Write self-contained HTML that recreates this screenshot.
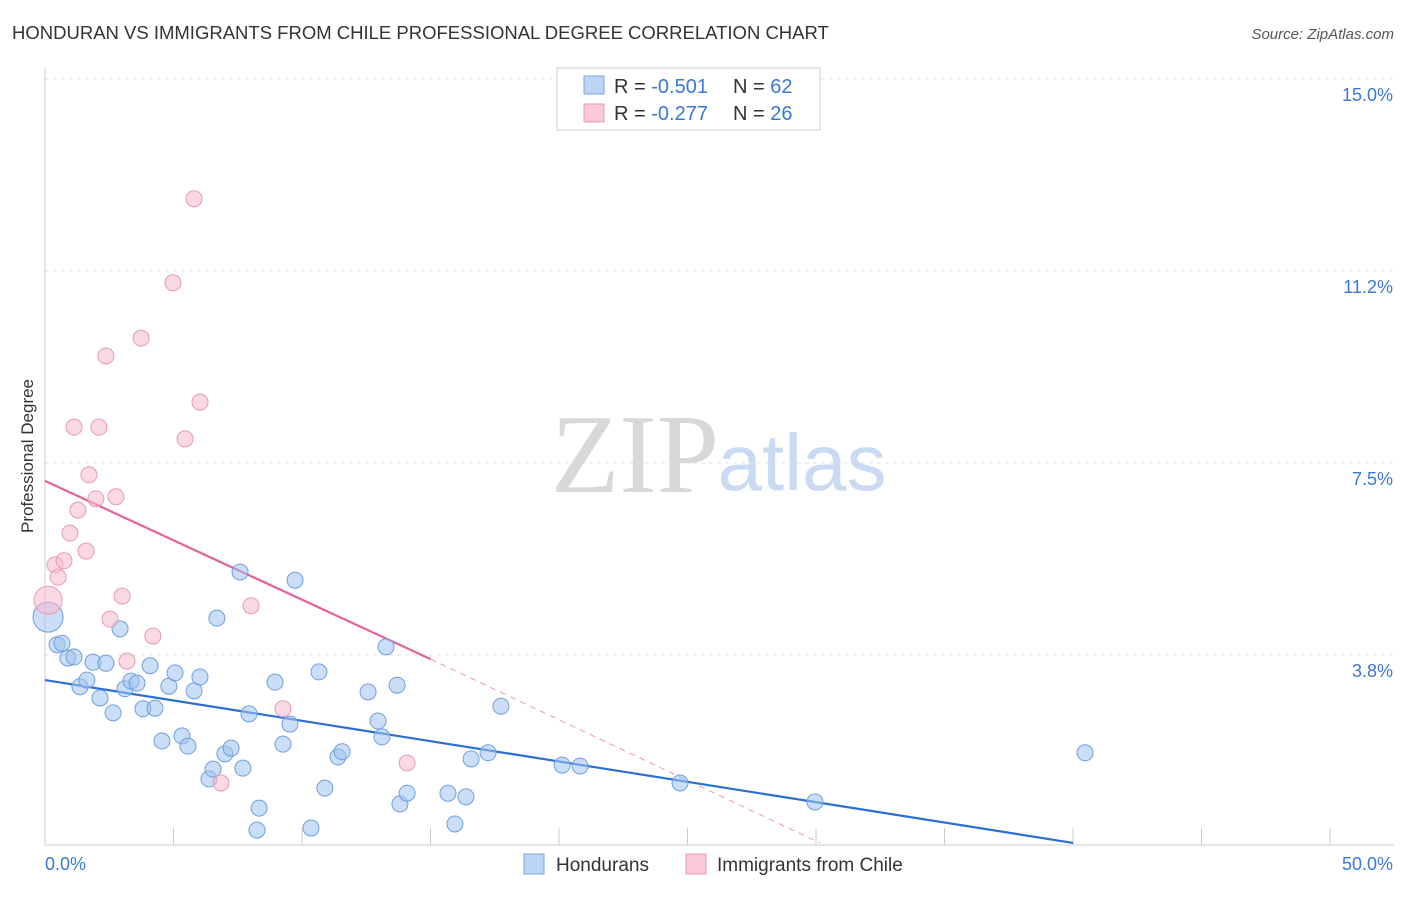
<!DOCTYPE html>
<html><head><meta charset="utf-8">
<style>
body{margin:0;background:#fff;width:1406px;height:892px;overflow:hidden;font-family:"Liberation Sans",sans-serif}
</style></head>
<body>
<svg id="chart" width="1406" height="892" xmlns="http://www.w3.org/2000/svg" font-family="Liberation Sans, sans-serif">
<text x="12" y="39" font-size="18.5" fill="#333">HONDURAN VS IMMIGRANTS FROM CHILE PROFESSIONAL DEGREE CORRELATION CHART</text>
<text x="1394" y="39" font-size="15" fill="#555" text-anchor="end" font-style="italic">Source: ZipAtlas.com</text>
<text transform="translate(33,456) rotate(-90)" font-size="17" fill="#333" text-anchor="middle">Professional Degree</text>
<g>
<text x="635" y="492" font-size="112" fill="#d8d8d8" font-family="Liberation Serif, serif" text-anchor="middle">ZIP</text>
<text x="802" y="490" font-size="80" fill="#c9daf2" text-anchor="middle">atlas</text>
</g>
<g id="grid"></g><g id="axes"></g><g id="trends"></g><g id="points"></g>
<g>
<rect x="557" y="68" width="263" height="62" fill="#fff" stroke="#ccc"/>
<rect x="584" y="76" width="20" height="18" fill="#bcd5f5" stroke="#7aa7e0"/>
<text x="614" y="93" font-size="20" fill="#333">R = <tspan fill="#3a78d4">-0.501</tspan></text>
<text x="733" y="93" font-size="20" fill="#333">N = <tspan fill="#3a78d4">62</tspan></text>
<rect x="584" y="104" width="20" height="18" fill="#f9c9d7" stroke="#e899b2"/>
<text x="614" y="120" font-size="20" fill="#333">R = <tspan fill="#3a78d4">-0.277</tspan></text>
<text x="733" y="120" font-size="20" fill="#333">N = <tspan fill="#3a78d4">26</tspan></text>
</g>
<g>
<rect x="524" y="854" width="20" height="20" fill="#bcd5f5" stroke="#7aa7e0"/>
<text x="556" y="871" font-size="19" fill="#333">Hondurans</text>
<rect x="686" y="854" width="20" height="20" fill="#f9c9d7" stroke="#e899b2"/>
<text x="717" y="871" font-size="19" fill="#333">Immigrants from Chile</text>
</g>
</svg>
<script>
const blueX=[0.12,0.47,0.66,0.89,1.13,1.36,1.63,1.87,2.14,2.37,2.65,2.92,3.11,3.35,3.58,3.81,4.09,4.28,4.55,4.82,5.06,5.33,5.56,5.80,6.03,6.38,6.54,6.69,7.00,7.24,7.59,7.70,7.94,8.33,8.25,8.95,9.26,9.53,9.73,10.35,10.66,10.89,11.40,11.56,12.57,12.96,13.11,13.27,13.70,13.81,14.09,15.68,15.95,16.38,16.58,17.24,17.74,20.12,20.82,24.71,29.96,40.47];
const blueY=[4.49,3.95,3.98,3.69,3.71,3.13,3.26,3.61,2.91,3.59,2.62,4.26,3.09,3.24,3.20,2.70,3.54,2.71,2.07,3.14,3.40,2.17,1.97,3.05,3.32,1.33,1.52,4.47,1.82,1.93,5.37,1.54,2.60,0.76,0.33,3.22,2.01,2.40,5.21,0.37,3.42,1.15,1.76,1.86,3.03,2.46,2.15,3.91,3.16,0.84,1.05,1.05,0.45,0.98,1.72,1.84,2.75,1.60,1.58,1.25,0.88,1.84];
const pinkX=[0.12,0.39,0.51,0.74,0.97,1.13,1.28,1.60,1.71,1.98,2.10,2.37,2.53,2.76,3.00,3.19,3.74,4.20,4.98,5.45,5.80,6.03,6.85,8.02,9.26,14.09];
const pinkY=[4.82,5.51,5.27,5.59,6.13,8.20,6.58,5.78,7.27,6.80,8.20,9.59,4.45,6.84,4.90,3.63,9.94,4.12,11.02,7.97,12.66,8.69,1.25,4.71,2.70,1.64];
const yTicks=[3.75,7.5,11.25,15.0];
const yTickLabels=["3.8%","7.5%","11.2%","15.0%"];
const xTicks=[0,5,10,15,20,25,30,35,40,45,50];
const blueTrend=[[0,3.26],[40,0.08]];
const pinkTrend=[[0,7.15],[15,3.67]];
const pinkDash=[[15,3.67],[30.15,0.08]];
const NS="http://www.w3.org/2000/svg";
const sx=v=>45+v*25.7, sy=v=>847-v*51.2;
function mk(t,a,p){const e=document.createElementNS(NS,t);for(const k in a)e.setAttribute(k,a[k]);p.appendChild(e);return e;}
const grid=document.getElementById('grid'),axes=document.getElementById('axes'),tr=document.getElementById('trends'),pts=document.getElementById('points');
yTicks.forEach((v,i)=>{
 const l=mk('line',{x1:45,x2:1394,y1:sy(v),y2:sy(v),stroke:'#e0e0e0','stroke-dasharray':'4,4'},grid);
 
 
 const t=mk('text',{x:1393,y:sy(v)+22,'font-size':18,fill:'#3a78d4','text-anchor':'end'},axes);
 t.textContent=yTickLabels[i];
 
 
});
const ax=mk('line',{x1:45,x2:1394,y1:845,y2:845,stroke:'#ccc'},axes);


const ay=mk('line',{x1:45,x2:45,y1:68,y2:845,stroke:'#ccc'},axes);


xTicks.forEach(v=>{
 const l=mk('line',{x1:sx(v),x2:sx(v),y1:828,y2:845,stroke:'#ccc'},axes);
 
 
});
const xl0=mk('text',{x:45,y:870,'font-size':18,fill:'#3a78d4'},axes);xl0.textContent='0.0%';


const xl1=mk('text',{x:1393,y:870,'font-size':18,fill:'#3a78d4','text-anchor':'end'},axes);xl1.textContent='50.0%';


function line(p,st,dash,name){const e=mk('line',{x1:sx(p[0][0]),y1:sy(p[0][1]),x2:sx(p[1][0]),y2:sy(p[1][1]),stroke:st,'stroke-width':dash?1:2.2},tr);if(dash)e.setAttribute('stroke-dasharray','6,5');
 
 }
line(pinkDash,'#e899b2',true,'chile-trend-extension');
line(blueTrend,'#2a6fd6',false,'hondurans-trend-line');
line(pinkTrend,'#e8609a',false,'chile-trend-line');
blueX.forEach((x,i)=>{const c=mk('circle',{cx:sx(x),cy:sy(blueY[i]),r:i===0?15:8,fill:'rgba(160,195,240,0.55)',stroke:'#6f9fdc','stroke-width':1},pts);
 
 });
pinkX.forEach((x,i)=>{const c=mk('circle',{cx:sx(x),cy:sy(pinkY[i]),r:i===0?14:8,fill:'rgba(247,185,205,0.55)',stroke:'#e899b2','stroke-width':1},pts);
 
 });
</script>
</body></html>
